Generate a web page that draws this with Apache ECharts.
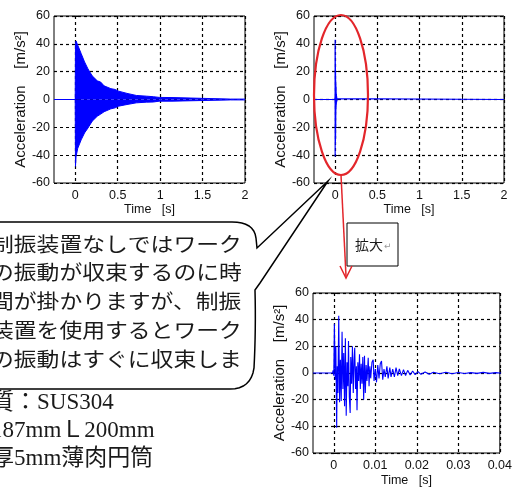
<!DOCTYPE html>
<html><head><meta charset="utf-8">
<script src="https://cdn.jsdelivr.net/npm/echarts@6/dist/echarts.min.js"></script>
<style>html,body{margin:0;padding:0;background:#fff;overflow:hidden}#c{width:515px;height:488px}</style>
</head><body><div id="c"></div>
<script>
// ---- Top-left: without damper (envelope of the dense decaying vibration) ----
const timeNoDamper  = [-0.25, 0, 0.003, 0.01, 0.03, 0.07, 0.11, 0.15, 0.2, 0.26, 0.3, 0.34, 0.42, 0.47, 0.51, 0.61, 0.72, 0.84, 0.92, 0.99, 1.14, 1.15, 1.83, 1.85, 1.87, 2];
const upperNoDamper = [0, 0, 40, 42, 39, 33, 27, 22, 17, 13.4, 12.5, 9.8, 7.8, 7.2, 6, 4.4, 2.9, 2.4, 2.0, 1.5, 1.4, 0.3, 0.3, 0.9, 0.3, 0.3];
const lowerNoDamper = [0, 0, -48, -41, -35, -29, -24, -20.5, -15.6, -12, -10.5, -8.8, -6.7, -6.0, -4.8, -3.6, -2.4, -1.9, -1.8, -1.2, -1.2, -0.3, -0.3, -0.9, -0.3, -0.3];

// ---- With damper: [time (ms), acceleration] ----
const damperSamples = [
  [-5,0],[-0.3,0],[-0.15,2],[0,-2],[0.15,37],[0.35,-5],[0.5,20],[0.7,-41],[0.85,5],[1.0,-15],
  [1.2,43],[1.4,-22],[1.6,10],[1.8,-21],[2.0,31],[2.2,-12],[2.4,15],[2.6,-25],[2.8,26],[3.0,-32],
  [3.2,8],[3.4,-10],[3.55,24],[3.75,-18],[3.95,-30],[4.1,12],[4.3,-8],[4.5,20],[4.7,-15],[4.9,10],
  [5.05,19],[5.25,-12],[5.45,5],[5.6,-28],[5.8,8],[6.0,-6],[6.2,14],[6.4,-12],[6.6,7],[6.8,-8],
  [7.0,12],[7.2,-20],[7.4,13],[7.6,-15],[7.8,6],[8.0,-6],[8.3,11.5],[8.5,-10],[8.7,5],[8.9,-4],
  [9.2,8],[9.5,10],[9.7,-6],[10.0,3],[10.3,-7],[10.6,6],[10.9,-4],[11.2,7],[11.5,9],[11.8,-5],
  [12.1,3],[12.4,-3],[12.8,5],[13.1,-4],[13.5,4],[13.8,-3],[14.2,3],[14.6,-3],[15.0,4],[15.4,-2],
  [15.8,3],[16.3,-2],[16.8,2.5],[17.3,-2],[17.8,2],[18.4,-1.5],[19.0,1.5],[19.6,-1.2],[20.3,1],[21.0,-1],
  [22.0,0.8],[23.0,-1],[24.0,0.6],[25.5,-0.6],[27.0,0.5],[28.5,-0.5],[30.0,0.4],[31.5,-0.4],[33.0,0.3],[34.5,-0.3],
  [36.0,0.5],[37.5,-0.3],[39.0,0.3],[40.0,0],[2000,0]
];

const xTicksWide = [0, 0.5, 1, 1.5, 2];
const xTicksZoom = [0, 0.01, 0.02, 0.03, 0.04];
const yName = 'Acceleration    [m/s²]';
const xName = 'Time   [s]';
const bubbleLines = ['制振装置なしではワーク', 'の振動が収束するのに時', '間が掛かりますが、制振', '装置を使用するとワーク', 'の振動はすぐに収束しま'];
const materialLines = ['質：SUS304', '187mmＬ200mm', '厚5mm薄肉円筒'];
const zoomLabel = '拡大';

const BLUE = '#0000ff';
const RED = '#e3262b';
const AX_FONT = 'Liberation Sans, Arial, sans-serif';
const JP_FONT = '"Noto Sans CJK JP", sans-serif';

function mkX(gi, min, max, ticks, gap) {
  return {
    type: 'value', gridIndex: gi, min: min, max: max,
    axisLine: {show: false},
    axisTick: {show: true, inside: true, length: 4, customValues: ticks, lineStyle: {color: '#000'}},
    axisLabel: {customValues: ticks, color: '#111', fontSize: 12.5, fontFamily: AX_FONT, margin: 6, formatter: v => String(v)},
    splitLine: {show: true, lineStyle: {color: '#000', type: [3, 3], width: 1.2}},
    name: xName, nameLocation: 'middle', nameGap: gap,
    nameTextStyle: {color: '#111', fontSize: 12.5, fontFamily: AX_FONT}
  };
}
function mkY(gi) {
  return {
    type: 'value', gridIndex: gi, min: -60, max: 60, interval: 20,
    axisLine: {show: false},
    axisTick: {show: true, inside: true, length: 4, lineStyle: {color: '#000'}},
    axisLabel: {color: '#111', fontSize: 12.5, fontFamily: AX_FONT, margin: 4},
    splitLine: {show: true, lineStyle: {color: '#000', type: [3, 3], width: 1.2}},
    name: yName, nameLocation: 'middle', nameGap: 22,
    nameTextStyle: {color: '#111', fontSize: 15, fontFamily: AX_FONT}
  };
}

// sample a quadratic bezier for the bubble's rounded corners
function quad(p0, c, p1, n) {
  const pts = [];
  for (let k = 1; k <= n; k++) {
    const s = k / n, u = 1 - s;
    pts.push([u * u * p0[0] + 2 * u * s * c[0] + s * s * p1[0], u * u * p0[1] + 2 * u * s * c[1] + s * s * p1[1]]);
  }
  return pts;
}
const bubblePts = [[-20, 222], [232, 222]]
  .concat(quad([232, 222], [254, 222], [256, 238], 8))
  .concat([[257, 248], [328, 181], [260, 283], [255, 290]])
  .concat(quad([255, 290], [256, 330], [254, 368], 8))
  .concat(quad([254, 368], [251, 389], [230, 389], 8))
  .concat([[-20, 389]]);

const chart = echarts.init(document.getElementById('c'), null, {renderer: 'canvas'});

const gridBase = {show: true, borderColor: '#000', borderWidth: 1, backgroundColor: '#fff', containLabel: false};

const graphics = [];
graphics.push({type: 'polyline', z: 100, shape: {points: bubblePts}, style: {fill: 'none', stroke: '#000', lineWidth: 1.5}});
bubbleLines.forEach((t, i) => {
  graphics.push({type: 'text', z: 101, x: -9, y: 244 + i * 28.8, scaleX: 1.14,
    style: {text: t, fontSize: 20, fontFamily: JP_FONT, fill: '#1a1a1a', verticalAlign: 'middle', align: 'left'}});
});
materialLines.forEach((t, i) => {
  graphics.push({type: 'text', z: 101, x: -9, y: 403 + i * 28,
    style: {text: t, fontSize: 23, fontFamily: 'Liberation Serif, "Noto Sans CJK JP", serif', fill: '#1a1a1a', verticalAlign: 'middle', align: 'left'}});
});
graphics.push({type: 'ellipse', z: 110, shape: {cx: 341, cy: 95, rx: 27, ry: 80}, style: {fill: 'none', stroke: RED, lineWidth: 2.2}});
graphics.push({type: 'line', z: 110, shape: {x1: 341, y1: 175, x2: 346, y2: 276}, style: {stroke: RED, lineWidth: 1.5}});
graphics.push({type: 'polyline', z: 110, shape: {points: [[340, 266], [346, 278], [352, 266]]}, style: {stroke: RED, lineWidth: 1.5, fill: 'none'}});
graphics.push({type: 'rect', z: 105, shape: {x: 347, y: 223, width: 51, height: 43}, style: {fill: '#fff', stroke: '#000', lineWidth: 1}});
graphics.push({type: 'text', z: 106, x: 355, y: 245, style: {text: zoomLabel, fontSize: 14, fontFamily: JP_FONT, fill: '#1a1a1a', verticalAlign: 'middle'}});
graphics.push({type: 'text', z: 106, x: 384, y: 247, style: {text: '↵', fontSize: 9, fontFamily: 'DejaVu Sans', fill: '#999', verticalAlign: 'middle'}});

const option = {
  animation: false,
  backgroundColor: '#fff',
  grid: [
    Object.assign({left: 54, top: 16, width: 191, height: 167}, gridBase),
    Object.assign({left: 314, top: 16, width: 190, height: 167}, gridBase),
    Object.assign({left: 313, top: 293, width: 192, height: 162}, gridBase)
  ],
  xAxis: [
    mkX(0, -0.25, 2, xTicksWide, 20),
    mkX(1, -0.25, 2, xTicksWide, 20),
    mkX(2, -0.005, 0.04, xTicksZoom, 21)
  ],
  yAxis: [mkY(0), mkY(1), mkY(2)],
  series: [
    {type: 'line', xAxisIndex: 0, yAxisIndex: 0, symbol: 'none', silent: true,
     data: timeNoDamper.map((t, i) => [t, upperNoDamper[i]]),
     lineStyle: {color: BLUE, width: 1}, areaStyle: {color: BLUE, opacity: 1}},
    {type: 'line', xAxisIndex: 0, yAxisIndex: 0, symbol: 'none', silent: true,
     data: timeNoDamper.map((t, i) => [t, lowerNoDamper[i]]),
     lineStyle: {color: BLUE, width: 1}, areaStyle: {color: BLUE, opacity: 1}},
    {type: 'line', xAxisIndex: 1, yAxisIndex: 1, symbol: 'none', silent: true,
     data: [[-0.25, 0]].concat(damperSamples.map(p => [p[0] / 1000, p[1]])),
     lineStyle: {color: BLUE, width: 1.2}},
    {type: 'line', xAxisIndex: 2, yAxisIndex: 2, symbol: 'none', silent: true, clip: true,
     data: damperSamples.map(p => [p[0] / 1000, p[1]]),
     lineStyle: {color: BLUE, width: 1.1}}
  ],
  graphic: graphics
};
chart.setOption(option);
</script>
</body></html>
